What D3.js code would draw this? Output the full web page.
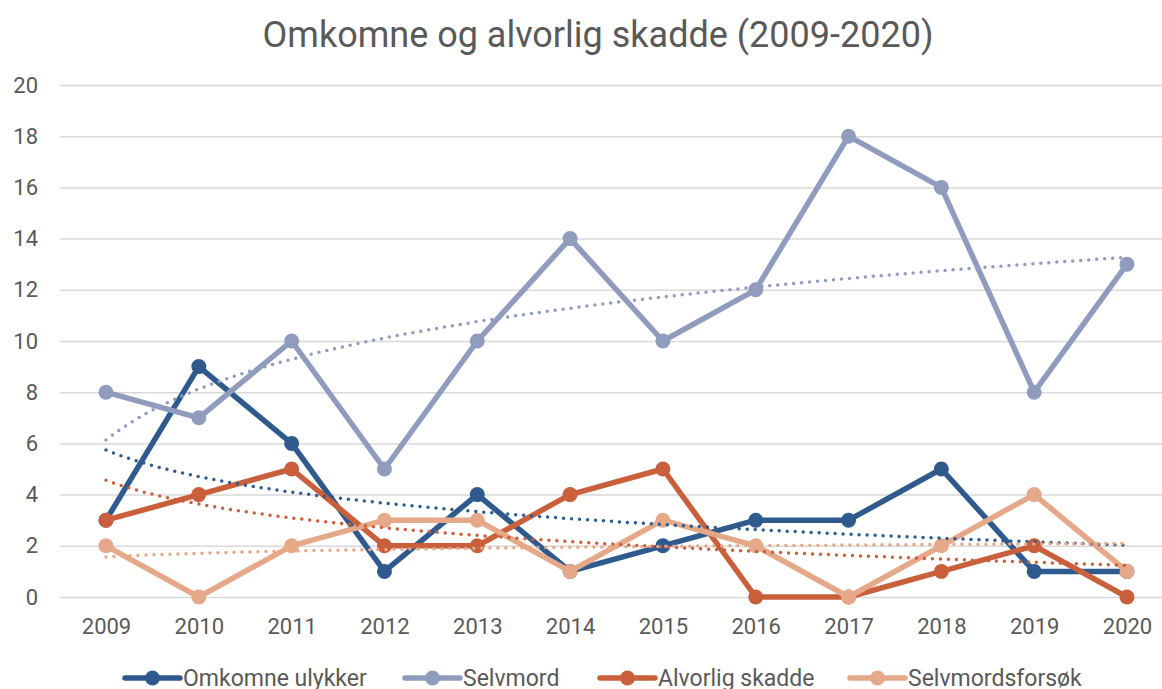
<!DOCTYPE html>
<html>
<head>
<meta charset="utf-8">
<script src="https://cdn.jsdelivr.net/npm/d3@7"></script>
<style>
  body { margin: 0; background: #fff; }
  text { font-family: Roboto, "Liberation Sans", sans-serif; fill: #595959; }
</style>
</head>
<body>
<svg id="chart" width="1162" height="689"></svg>
<script>
// data
const years = [2009, 2010, 2011, 2012, 2013, 2014, 2015, 2016, 2017, 2018, 2019, 2020];
const omkomneUlykker = [3, 9, 6, 1, 4, 1, 2, 3, 3, 5, 1, 1];
const selvmord = [8, 7, 10, 5, 10, 14, 10, 12, 18, 16, 8, 13];
const alvorligSkadde = [3, 4, 5, 2, 2, 4, 5, 0, 0, 1, 2, 0];
const selvmordsforsok = [2, 0, 2, 3, 3, 1, 3, 2, 0, 2, 4, 1];
const yTicks = [0, 2, 4, 6, 8, 10, 12, 14, 16, 18, 20];

const series = [
    { name: "Omkomne ulykker", values: omkomneUlykker, color: "#2F5A8E" },
    { name: "Selvmord", values: selvmord, color: "#8F9CBE" },
    { name: "Alvorlig skadde", values: alvorligSkadde, color: "#C95F3B" },
    { name: "Selvmordsforsøk", values: selvmordsforsok, color: "#E5A98A" },
];

const svg = d3.select("#chart");

// Scales
const x = d3.scalePoint().domain(years).range([106, 1127]);
const y = d3.scaleLinear().domain([0, 20]).range([597, 85]);

// Title
svg.append("text")
    .attr("x", 598)
    .attr("y", 47)
    .attr("text-anchor", "middle")
    .style("font-size", "36px")
    .text("Omkomne og alvorlig skadde (2009-2020)");

// Gridlines + y labels
const yAxis = d3.axisLeft(y).tickValues(yTicks).tickSize(-1114).tickPadding(22);
svg.append("g")
    .attr("transform", "translate(60,0)")
    .call(yAxis)
    .call((g) => g.select(".domain").remove())
    .call((g) => g.selectAll("line").attr("stroke", "#D9D9D9").attr("stroke-width", 1.5))
    .call((g) => g.selectAll("text").style("font-size", "22px").attr("fill", "#595959"));

// x labels
const xAxis = d3.axisBottom(x).tickSize(0).tickPadding(21);
svg.append("g")
    .attr("transform", "translate(0,597)")
    .call(xAxis)
    .call((g) => g.select(".domain").remove())
    .call((g) => g.selectAll("text").style("font-size", "22px").attr("fill", "#595959"));

// Lines and markers
const line = d3.line()
    .x((d, i) => x(years[i]))
    .y((d) => y(d));

series.forEach((s) => {
    svg.append("path")
        .datum(s.values)
        .attr("fill", "none")
        .attr("stroke", s.color)
        .attr("stroke-width", 5.5)
        .attr("stroke-linejoin", "round")
        .attr("d", line);

    svg.append("g")
        .selectAll("circle")
        .data(s.values)
        .enter()
        .append("circle")
        .attr("cx", (d, i) => x(years[i]))
        .attr("cy", (d) => y(d))
        .attr("r", 7.5)
        .attr("fill", s.color);
});

// Logarithmic trendlines (like Excel): y = a + b*ln(n), n = 1..12
const logFit = (vals) => {
    const lx = vals.map((v, i) => Math.log(i + 1));
    const mx = d3.mean(lx);
    const my = d3.mean(vals);
    const b = d3.sum(lx, (l, i) => (l - mx) * (vals[i] - my)) / d3.sum(lx, (l) => (l - mx) ** 2);
    const a = my - b * mx;
    return (n) => a + b * Math.log(n);
};

const stepPx = x.step();
series.forEach((s) => {
    const f = logFit(s.values);
    const pts = d3.range(1, 12.001, 0.05).map((n) => [x(years[0]) + (n - 1) * stepPx, y(f(n))]);
    svg.append("path")
        .attr("d", d3.line()(pts))
        .attr("fill", "none")
        .attr("stroke", s.color)
        .attr("stroke-width", 3.5)
        .attr("stroke-linecap", "round")
        .attr("stroke-dasharray", "0 8");
});

// Legend
const legendX = [125, 405, 600, 850];
const legend = svg.append("g").attr("transform", "translate(0,678)");
series.forEach((s, i) => {
    const g = legend.append("g").attr("transform", `translate(${legendX[i]},0)`);
    g.append("line")
        .attr("x1", 0).attr("x2", 55)
        .attr("stroke", s.color)
        .attr("stroke-width", 5.5)
        .attr("stroke-linecap", "round");
    g.append("circle").attr("cx", 27.5).attr("r", 7.5).attr("fill", s.color);
    g.append("text")
        .attr("x", 58)
        .attr("dy", "0.35em")
        .style("font-size", "23px")
        .text(s.name);
});
</script>
</body>
</html>
